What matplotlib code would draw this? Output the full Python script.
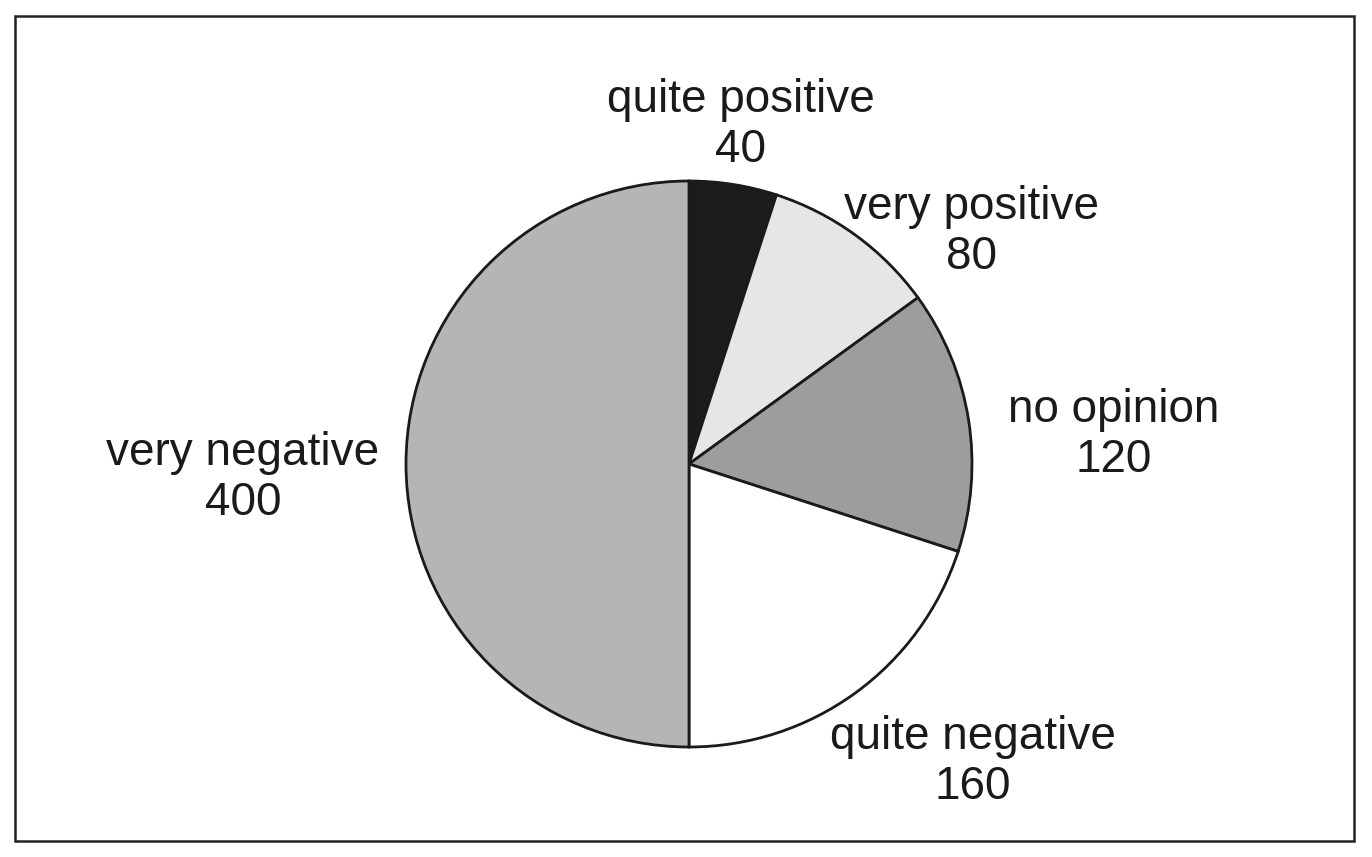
import matplotlib
matplotlib.use("Agg")
import matplotlib.pyplot as plt
from matplotlib.patches import Rectangle

categories = ["quite positive", "very positive", "no opinion", "quite negative", "very negative"]
values = [40, 80, 120, 160, 400]
colors = ["#1c1c1c", "#e6e6e6", "#9d9d9d", "#ffffff", "#b5b5b5"]

W, H = 1372, 857
fig = plt.figure(figsize=(W / 100, H / 100), dpi=100)
plt.rcParams['font.family'] = ['Liberation Sans', 'DejaVu Sans']
ax = fig.add_axes([0, 0, 1, 1])

cx, cy, r = 689, H - 464, 283
wedges, _ = ax.pie(values, colors=colors, startangle=90, counterclock=False,
                   center=(cx, cy), radius=r,
                   wedgeprops=dict(edgecolor="#1a1a1a", linewidth=2.0))
ax.set_xlim(0, W)
ax.set_ylim(0, H)
ax.set_aspect("equal")
ax.axis("off")

label_pos = [(741, 125), (972, 232), (1114, 435), (973, 762), (243, 478)]
for cat, v, (px, py) in zip(categories, values, label_pos):
    ax.text(px, H - py, f"{cat}\n{v}", ha="center", va="center",
            fontsize=33, color="#1a1a1a", linespacing=1.15)

fig.patches.append(Rectangle((15 / W, (H - 841) / H), (1354 - 15) / W, (841 - 16) / H,
                             transform=fig.transFigure, fill=False,
                             edgecolor="#222222", linewidth=1.8))

fig.savefig("out.png", dpi=100)
